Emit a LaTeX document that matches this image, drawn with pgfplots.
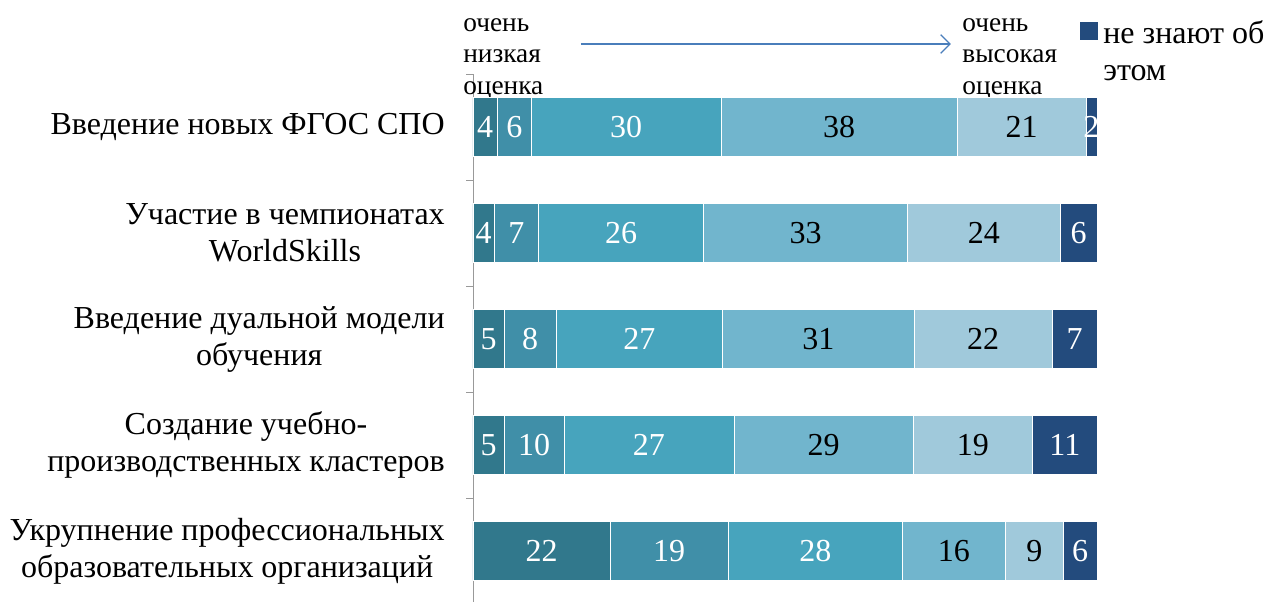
\documentclass[border=0pt]{standalone}
\usepackage{pgfplots}
\pgfplotsset{compat=1.18}
\usepackage{pgfplotstable}
\usetikzlibrary{arrows.meta}
\usepackage{fontspec}
\setmainfont{Liberation Serif}
\definecolor{c1}{HTML}{31788C}
\definecolor{c2}{HTML}{408FA8}
\definecolor{c3}{HTML}{47A4BD}
\definecolor{c4}{HTML}{71B5CD}
\definecolor{c5}{HTML}{A0C9DB}
\definecolor{c6}{HTML}{234B7D}
\definecolor{arr}{HTML}{4A7EBB}
\pgfplotstableread{
y a b c d e f la lb lc ld le lf
0 3.86 5.55 30.3 37.9 20.6 1.78 4 6 30 38 21 2
1 3.4 7.07 26.5 32.7 24.4 6.0 4 7 26 33 24 6
2 5.0 8.3 26.7 30.7 22.1 7.2 5 8 27 31 22 7
3 5.0 9.6 27.2 28.8 19.0 10.5 5 10 27 29 19 11
4 22.0 18.9 27.9 16.5 9.3 5.4 22 19 28 16 9 6
}\data
\pgfplotsset{
  seg/.style 2 args={fill=#1, draw=white, line width=0.4pt,
    nodes near coords, point meta=explicit symbolic,
    every node near coord/.append style={text=#2}},
}
\begin{document}
\begin{tikzpicture}
\begin{axis}[
  at={(0,0)}, anchor=south west,
  scale only axis, width=468pt, height=397.5pt,
  xbar stacked, bar width=44pt,
  xmin=0, xmax=100, ymin=-0.5, ymax=4.5, y dir=reverse,
  clip=false,
  axis x line=none, axis y line*=left,
  axis line style={draw=gray!80},
  ytick={0,1,2,3,4},
  yticklabels={{Введение новых ФГОС СПО},{Участие в чемпионатах\\WorldSkills},{Введение дуальной модели\\обучения},{Создание учебно-\\производственных кластеров},{Укрупнение профессиональных\\образовательных организаций}},
  yticklabel style={font=\fontsize{24}{27.75}\selectfont, align=center, inner sep=0pt, xshift=-21pt},
  major tick length=0pt,
  minor ytick={-0.5,0.5,1.5,2.5,3.5,4.5},
  minor tick length=5pt, tick align=outside,
  minor tick style={draw=gray!80},
  nodes near coords style={anchor=center, font=\fontsize{24}{28}\selectfont},
  legend style={draw=none, fill=none, at={(axis description cs:0.9666,1.108)}, anchor=north west, font=\fontsize{24}{27.75}\selectfont, nodes={align=left, inner sep=1pt}, /tikz/every odd column/.append style={column sep=3pt}},
  legend image code/.code={\fill[c6] (0pt,9.5pt) rectangle (12.75pt,22.25pt);},
]
\addlegendimage{fill=c6}
\addplot[seg={c1}{white}] table[x=a,y=y,meta=la]{\data};
\addplot[seg={c2}{white}] table[x=b,y=y,meta=lb]{\data};
\addplot[seg={c3}{white}] table[x=c,y=y,meta=lc]{\data};
\addplot[seg={c4}{black}] table[x=d,y=y,meta=ld]{\data};
\addplot[seg={c5}{black}] table[x=e,y=y,meta=le]{\data};
\addplot[seg={c6}{white}] table[x=f,y=y,meta=lf]{\data};
\legend{{не знают об\\этом}}
\draw[arr, line width=1pt, -{Straight Barb[length=7pt,width=14pt]}] (axis description cs:0.173,1.0566) -- (axis description cs:0.766,1.0566);
\node[anchor=north west, align=left, inner sep=0pt, font=\fontsize{20.5}{23.5}\selectfont] at (axis description cs:-0.016,1.105) {очень\\низкая\\оценка};
\node[anchor=north west, align=left, inner sep=0pt, font=\fontsize{20.5}{23.5}\selectfont] at (axis description cs:0.784,1.105) {очень\\высокая\\оценка};
\end{axis}
\pgfresetboundingbox
\path (-354.75pt,2.25pt) rectangle (595.5pt,453pt);
\end{tikzpicture}
\end{document}
